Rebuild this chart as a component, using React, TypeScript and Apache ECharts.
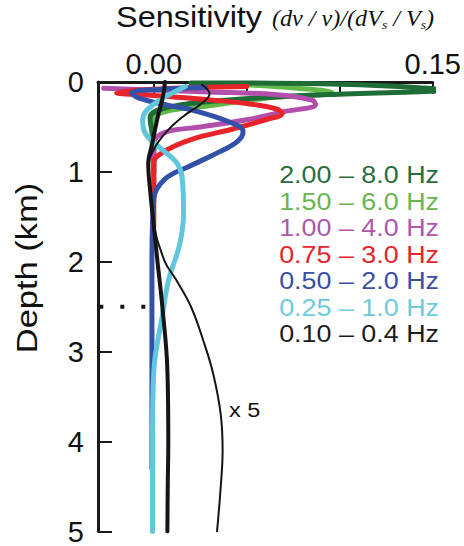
import React, { useEffect, useRef } from "react";
import * as echarts from "echarts";

// ---- data ----
const legendLabels = [
  "2.00 – 8.0 Hz",
  "1.50 – 6.0 Hz",
  "1.00 – 4.0 Hz",
  "0.75 – 3.0 Hz",
  "0.50 – 2.0 Hz",
  "0.25 – 1.0 Hz",
  "0.10 – 0.4 Hz",
];
const xTickValues = [0, 0.05, 0.1, 0.15];
const xLabelValues = [0, 0.15];
const depthMin = 0;
const depthMax = 5;
const depthStep = 1;

// [sensitivity, depth (km)]
const band200to80: number[][] = [
  [0.02, 0.01], [0.09, 0.02], [0.154, 0.09], [0.094, 0.14], [0.04, 0.2],
  [0.008, 0.28], [-0.002, 0.4], [0.0, 0.7], [0.0, 1.0],
];
const band150to60: number[][] = [
  [0.03, 0.02], [0.065, 0.05], [0.096, 0.12], [0.06, 0.18], [0.028, 0.27],
  [0.008, 0.32], [0.0, 0.4], [-0.001, 0.6], [0.0, 1.0],
];
const band100to40: number[][] = [
  [-0.027, 0.07], [0.0, 0.09], [0.03, 0.11], [0.065, 0.14], [0.085, 0.2],
  [0.087, 0.25], [0.07, 0.33], [0.05, 0.42], [0.025, 0.5], [0.006, 0.56],
  [0.0, 0.68], [0.0, 1.2],
];
const band075to30: number[][] = [
  [0.05, 0.05], [0.0, 0.08], [-0.02, 0.12], [0.0, 0.15], [0.025, 0.19],
  [0.05, 0.24], [0.066, 0.3], [0.069, 0.35], [0.06, 0.42], [0.043, 0.52],
  [0.02, 0.64], [0.005, 0.78], [0.0, 0.9], [0.0, 1.6],
];
const band050to20: number[][] = [
  [0.028, 0.06], [0.005, 0.08], [-0.012, 0.12], [-0.008, 0.18], [0.008, 0.26],
  [0.022, 0.32], [0.04, 0.44], [0.048, 0.55], [0.045, 0.66], [0.035, 0.78],
  [0.02, 0.93], [0.006, 1.08], [0.0, 1.3], [-0.001, 2.0], [-0.001, 3.0],
  [-0.001, 4.3],
];
const band025to10: number[][] = [
  [0.017, 0.05], [0.005, 0.18], [-0.004, 0.32], [-0.006, 0.43], [-0.004, 0.59],
  [0.005, 0.76], [0.013, 0.92], [0.0155, 1.12], [0.016, 1.45], [0.014, 1.8],
  [0.008, 2.2], [0.0046, 2.6], [0.0, 3.22], [-0.0007, 3.96], [-0.0007, 5.0],
];
const band010to04: number[][] = [
  [0.006, 0.0], [0.005, 0.15], [0.002, 0.4], [-0.001, 0.7], [-0.003, 0.9],
  [-0.002, 1.2], [0.0, 1.6], [0.002, 2.0], [0.0046, 2.5], [0.0073, 3.2],
  [0.0078, 4.0], [0.0075, 4.5], [0.0073, 5.0],
];
const band010to04x5: number[][] = [
  [0.026, 0.03], [0.03, 0.13], [0.025, 0.25], [0.016, 0.38], [0.007, 0.55],
  [0.0, 0.75], [-0.003, 0.95], [-0.002, 1.2], [0.0, 1.6], [0.006, 2.0],
  [0.012, 2.2], [0.02, 2.5], [0.027, 2.9], [0.032, 3.25], [0.036, 3.7],
  [0.037, 4.1], [0.036, 4.5], [0.034, 5.0],
];
const markerDepth: number[][] = [
  [-0.0293, 2.5],
  [-0.004, 2.5],
];

const FONT = '"Liberation Sans", Arial, Helvetica, sans-serif';
const SERIF = '"Liberation Serif", "Times New Roman", serif';

const colors = {
  darkGreen: "#1f6d36",
  lightGreen: "#62b94a",
  magenta: "#b24fad",
  red: "#e8242b",
  blue: "#3451aa",
  cyan: "#60c7dc",
  black: "#151515",
};
const legendColors = [
  "#2a6c3c",
  "#6ab552",
  "#ad58ab",
  "#e5242b",
  "#3a4ea3",
  "#6ecbdb",
  "#1c1c1c",
];

export default function App() {
  const ref = useRef<HTMLDivElement>(null);

  useEffect(() => {
    if (!ref.current) return;
    const chart = echarts.init(ref.current, undefined, { renderer: "svg" });

    const line = (name: string, data: number[][], color: string, width: number, clip = true) => ({
      name,
      type: "line",
      data,
      smooth: 0.4,
      symbol: "none",
      clip,
      lineStyle: { color, width, cap: "round", join: "round" },
      emphasis: { disabled: true },
    });

    const legendGraphics = legendLabels.map((t, i) => ({
      type: "text",
      x: 439,
      y: 175 + i * 26.5,
      scaleX: 1.12,
      style: {
        text: t,
        fontSize: 24,
        fontFamily: FONT,
        fill: legendColors[i],
        align: "right",
        verticalAlign: "middle",
      },
    }));

    chart.setOption({
      animation: false,
      backgroundColor: "#ffffff",
      grid: { left: 98, right: 30, top: 82, bottom: 12 },
      xAxis: {
        type: "value",
        position: "top",
        min: -0.03,
        max: 0.15,
        axisLine: { show: true, onZero: false, lineStyle: { color: "#1a1a1a", width: 3 } },
        axisTick: {
          show: true,
          inside: true,
          length: 12,
          customValues: xTickValues,
          lineStyle: { color: "#1a1a1a", width: 2 },
        },
        axisLabel: {
          customValues: xLabelValues,
          formatter: (v: number) => v.toFixed(2),
          fontSize: 29,
          fontFamily: FONT,
          color: "#111",
          margin: 4,
        },
        splitLine: { show: false },
      },
      yAxis: {
        type: "value",
        inverse: true,
        min: depthMin,
        max: depthMax,
        interval: depthStep,
        axisLine: { show: true, onZero: false, lineStyle: { color: "#1a1a1a", width: 3 } },
        axisTick: { show: true, inside: true, length: 14, lineStyle: { color: "#1a1a1a", width: 2 } },
        axisLabel: { fontSize: 29, fontFamily: FONT, color: "#111", margin: 14 },
        splitLine: { show: false },
      },
      series: [
        line(legendLabels[1], band150to60, colors.lightGreen, 5),
        line(legendLabels[0], band200to80, colors.darkGreen, 5, false),
        line(legendLabels[2], band100to40, colors.magenta, 5),
        line(legendLabels[3], band075to30, colors.red, 5),
        line(legendLabels[4], band050to20, colors.blue, 5),
        line(legendLabels[5], band025to10, colors.cyan, 5),
        line(legendLabels[6], band010to04, colors.black, 4),
        line(legendLabels[6] + " x 5", band010to04x5, colors.black, 2),
        {
          name: "marker",
          type: "line",
          data: markerDepth,
          symbol: "none",
          lineStyle: { color: colors.black, width: 4, type: [4, 17], cap: "butt" },
        },
      ],
      graphic: [
        {
          type: "text",
          x: 116,
          y: 17,
          scaleX: 1.12,
          style: {
            text: "Sensitivity",
            fontSize: 29,
            fontFamily: FONT,
            fill: "#111",
            align: "left",
            verticalAlign: "middle",
          },
        },
        {
          type: "text",
          x: 272,
          y: 18,
          scaleX: 1.05,
          style: {
            text: "{m|(dv / v)/(dV}{s|s}{m| / V}{s|s}{m|)}",
            fill: "#111",
            align: "left",
            verticalAlign: "middle",
            rich: {
              m: { fontSize: 23, fontFamily: SERIF, fontStyle: "italic", lineHeight: 26, verticalAlign: "middle", fill: "#111" },
              s: { fontSize: 13, fontFamily: SERIF, fontStyle: "italic", lineHeight: 13, verticalAlign: "bottom", fill: "#111" },
            },
          },
        },
        {
          type: "text",
          x: 27,
          y: 268,
          rotation: Math.PI / 2,
          scaleX: 1.15,
          style: {
            text: "Depth (km)",
            fontSize: 30,
            fontFamily: FONT,
            fill: "#111",
            align: "center",
            verticalAlign: "middle",
          },
        },
        {
          type: "text",
          x: 229,
          y: 410,
          scaleX: 1.12,
          style: {
            text: "x 5",
            fontSize: 21,
            fontFamily: FONT,
            fill: "#111",
            align: "left",
            verticalAlign: "middle",
          },
        },
        ...legendGraphics,
      ],
    });

    return () => chart.dispose();
  }, []);

  return (
    <div
      ref={ref}
      style={{ position: "fixed", left: 0, top: 0, width: 464, height: 546, background: "#fff" }}
    />
  );
}
